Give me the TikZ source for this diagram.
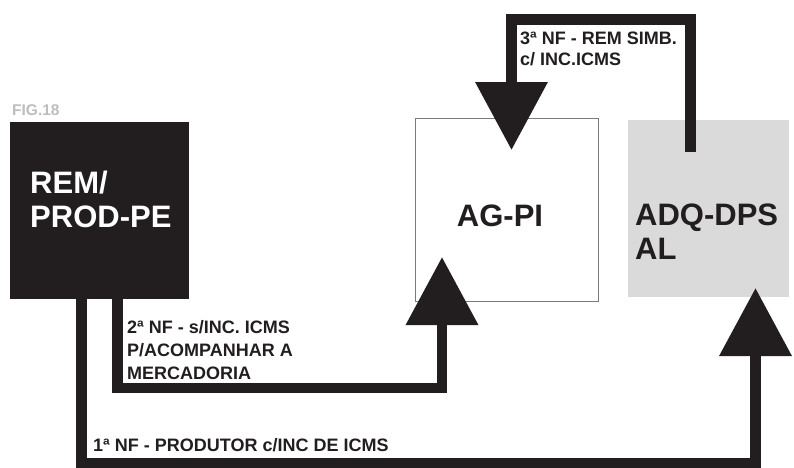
\documentclass[tikz,border=0pt]{standalone}
\usepackage{fontspec}
\setmainfont{Liberation Sans}
\usetikzlibrary{arrows.meta,positioning,calc}
\definecolor{nfblack}{HTML}{221E1F}
\definecolor{nfgrey}{HTML}{DADADA}
\definecolor{nfline}{HTML}{7A7A7A}
\definecolor{nffig}{HTML}{BDBDBD}
\tikzset{
  box/.style={anchor=north west, inner sep=0pt, outer sep=0pt},
  flow/.style={-{Triangle[length=68pt, width=70pt]}, line width=10.5pt, nfblack},
  bigtxt/.style={font=\bfseries\fontsize{31}{34}\selectfont, align=left, inner sep=0pt},
  labtxt/.style={font=\bfseries\fontsize{18}{#1}\selectfont, align=left, inner sep=0pt, nfblack},
  labtxt/.default=22,
}

\begin{document}
\begin{tikzpicture}[x=1pt, y=-1pt]
  \useasboundingbox (0,0) rectangle (794,467);
  % boxes
  \node[box, fill=nfblack, minimum width=179pt, minimum height=177pt] (rem) at (10,122) {};
  \node[box, draw=nfline, line width=0.8pt, fill=white, minimum width=183pt, minimum height=183pt] (agpi) at (415,118) {};
  \node[box, fill=nfgrey, minimum width=161pt, minimum height=177pt] (adq) at (628,120) {};
  \node[bigtxt, white, anchor=west] (remtxt) at (30,199.5) {REM/\\PROD-PE};
  \node[bigtxt, nfblack] (agtxt) at (500,216) {AG-PI};
  \node[bigtxt, nfblack, anchor=west] (adqtxt) at (635,231.5) {ADQ-DPS\\AL};
  \node[font=\bfseries\fontsize{15.5}{18}\selectfont, nffig, inner sep=0pt, anchor=base west] (fig) at (12,115) {FIG.18};
  % notas fiscais
  \draw[flow] ($(rem.south west)!0.4!(rem.south east)$) -- ++(0,164.5)
    -| ($(adq.south west)+(127.5,-9)$);
  \draw[flow] ($(rem.south west)!0.6!(rem.south east)$) -- ++(0,89)
    -| ($(agpi.south west)+(27,-44)$);
  \draw[flow] ($(adq.north west)+(62.5,32)$) -- ++(0,-132.5)
    -| ($(agpi.north west)+(96.5,32)$);
  \node[labtxt=21, anchor=west] (nf3) at (520,48.5) {3ª NF - REM SIMB.\\c/ INC.ICMS};
  \node[labtxt=23, anchor=west] (nf2) at (127,350) {2ª NF - s/INC. ICMS\\P/ACOMPANHAR A\\MERCADORIA};
  \node[labtxt, anchor=base west] (nf1) at (93,451.5) {1ª NF - PRODUTOR c/INC DE ICMS};
\end{tikzpicture}
\end{document}
